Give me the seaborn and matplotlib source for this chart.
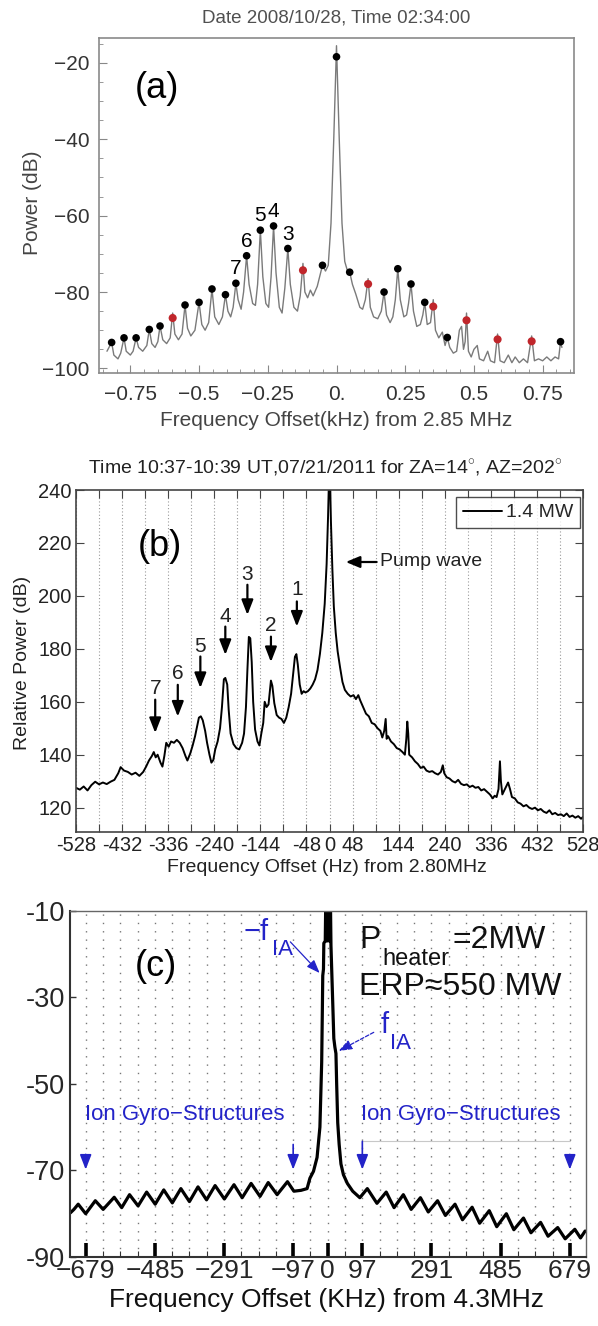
import numpy as np
import pandas as pd
import matplotlib
matplotlib.use("Agg")
import matplotlib.pyplot as plt
import seaborn as sns

sns.set_style("white")
plt.rcParams['font.family'] = ['Liberation Sans', 'DejaVu Sans']
plt.rcParams['mathtext.fontset'] = 'custom'
plt.rcParams['mathtext.rm'] = 'Liberation Sans'
plt.rcParams['axes.unicode_minus'] = True

# ---------------- Panel (a) data ----------------
a_line = [
    (-0.835, -95.5), (-0.818, -93.2), (-0.81, -96.5), (-0.795, -97.5), (-0.785, -96.0),
    (-0.773, -92.0), (-0.765, -95.5), (-0.75, -96.5), (-0.74, -95.5), (-0.729, -92.0),
    (-0.72, -94.5), (-0.705, -95.5), (-0.69, -94.0), (-0.681, -89.8), (-0.672, -93.5),
    (-0.66, -94.5), (-0.65, -93.0), (-0.642, -88.9), (-0.632, -92.5), (-0.618, -93.5),
    (-0.605, -92.0), (-0.596, -85.5), (-0.588, -91.0), (-0.575, -92.5), (-0.562, -91.0),
    (-0.551, -83.4), (-0.542, -89.5), (-0.53, -91.5), (-0.515, -90.0), (-0.500, -82.7),
    (-0.49, -88.5), (-0.478, -90.0), (-0.465, -88.0), (-0.453, -79.2), (-0.443, -86.5),
    (-0.428, -88.5), (-0.415, -86.5), (-0.404, -80.7), (-0.395, -85.0), (-0.385, -86.5),
    (-0.376, -84.0), (-0.366, -77.7), (-0.358, -82.0), (-0.347, -84.5), (-0.338, -80.0),
    (-0.327, -70.5), (-0.318, -78.0), (-0.305, -83.0), (-0.295, -83.5), (-0.287, -78.0),
    (-0.277, -63.8), (-0.268, -76.0), (-0.257, -83.0), (-0.247, -84.0), (-0.238, -76.0),
    (-0.229, -62.7), (-0.22, -75.0), (-0.208, -84.0), (-0.198, -85.5), (-0.188, -79.0),
    (-0.177, -68.6), (-0.168, -78.0), (-0.155, -84.0), (-0.142, -85.0), (-0.132, -81.0),
    (-0.122, -72.5), (-0.115, -80.0), (-0.105, -81.5), (-0.095, -79.5), (-0.085, -81.0),
    (-0.07, -78.5), (-0.051, -73.0), (-0.04, -74.5), (-0.03, -73.0), (-0.02, -62.0),
    (-0.01, -40.0), (0.0, -15.5), (0.01, -40.0), (0.02, -62.0), (0.03, -72.0),
    (0.04, -74.5), (0.048, -74.8), (0.058, -78.0), (0.07, -80.5), (0.085, -84.0),
    (0.095, -84.5), (0.105, -82.0), (0.115, -76.5), (0.123, -84.0), (0.135, -86.5),
    (0.15, -87.0), (0.163, -85.0), (0.173, -80.0), (0.182, -86.0), (0.195, -88.0),
    (0.205, -86.5), (0.214, -82.0), (0.223, -73.9), (0.232, -82.0), (0.245, -86.5),
    (0.255, -86.0), (0.262, -83.0), (0.271, -77.9), (0.28, -85.0), (0.292, -89.0),
    (0.305, -88.5), (0.314, -86.0), (0.321, -82.7), (0.33, -88.5), (0.342, -88.0),
    (0.352, -82.0), (0.36, -90.0), (0.372, -92.0), (0.385, -90.5), (0.395, -94.0),
    (0.403, -91.9), (0.412, -94.5), (0.425, -96.0), (0.437, -95.5), (0.447, -90.0),
    (0.455, -89.0), (0.462, -95.0), (0.468, -93.0), (0.473, -85.5), (0.48, -95.5),
    (0.49, -97.0), (0.5, -95.0), (0.512, -94.0), (0.52, -97.5), (0.535, -98.0),
    (0.55, -95.5), (0.56, -98.0), (0.575, -98.5), (0.586, -91.0), (0.595, -98.0),
    (0.61, -98.5), (0.625, -96.5), (0.638, -98.5), (0.65, -97.0), (0.665, -98.5),
    (0.68, -97.5), (0.695, -98.5), (0.71, -91.5), (0.72, -98.0), (0.735, -97.5),
    (0.75, -98.0), (0.765, -97.0), (0.78, -98.0), (0.795, -97.0), (0.808, -97.5),
    (0.815, -93.0), (0.82, -94.5)]
a_line_x = [p[0] for p in a_line]
a_line_y = [p[1] for p in a_line]
a_black_x = [-0.818, -0.773, -0.729, -0.681, -0.642, -0.551, -0.500, -0.453, -0.404, -0.366,
             -0.327, -0.277, -0.229, -0.177, -0.051, 0.0, 0.048, 0.173, 0.223, 0.271,
             0.321, 0.403, 0.815]
a_black_y = [-93.2, -92.0, -92.0, -89.8, -88.9, -83.4, -82.7, -79.2, -80.7, -77.7,
             -70.5, -63.8, -62.7, -68.6, -73.0, -18.4, -74.8, -80.0, -73.9, -77.9,
             -82.7, -91.9, -93.0]
a_red_x = [-0.596, -0.122, 0.115, 0.352, 0.473, 0.586, 0.71]
a_red_y = [-86.8, -74.3, -77.9, -83.8, -87.4, -92.4, -92.9]
a_num_labels = ["7", "6", "5", "4", "3"]
a_num_x = [-0.366, -0.327, -0.277, -0.229, -0.177]
a_num_y = [-77.7, -70.5, -63.8, -62.7, -68.6]
a_xticks = [-0.75, -0.5, -0.25, 0.0, 0.25, 0.5, 0.75]
a_xticklabels = ["\u22120.75", "\u22120.5", "\u22120.25", "0.", "0.25", "0.5", "0.75"]
a_yticks = [-100, -80, -60, -40, -20]
a_yticklabels = ["\u2212100", "\u221280", "\u221260", "\u221240", "\u221220"]

# ---------------- Panel (b) data ----------------
b_line = [
    (-528, 127.5), (-520, 126.8), (-512, 128.0), (-504, 126.5), (-496, 128.5), (-488, 129.8),
    (-480, 128.8), (-472, 129.5), (-464, 128.9), (-456, 129.8), (-448, 130.5), (-440, 133.0),
    (-435, 135.3), (-428, 134.0), (-420, 133.5), (-412, 132.5), (-404, 133.2), (-396, 132.0),
    (-388, 133.5), (-382, 135.5), (-376, 137.8), (-370, 139.5), (-366, 141.0), (-362, 139.0),
    (-358, 140.0), (-352, 137.0), (-348, 135.5), (-344, 139.5), (-340, 144.5), (-335, 143.0),
    (-330, 145.0), (-324, 144.5), (-318, 145.6), (-312, 144.5), (-306, 142.5), (-300, 139.5),
    (-296, 137.8), (-290, 140.5), (-285, 143.5), (-280, 147.0), (-276, 150.5), (-272, 154.0),
    (-268, 154.5), (-264, 153.0), (-259, 149.0), (-255, 144.5), (-250, 140.0), (-246, 137.0),
    (-242, 138.0), (-238, 142.0), (-233, 145.0), (-228, 150.0), (-224, 158.0), (-220, 168.5),
    (-217, 169.0), (-213, 166.5), (-210, 157.0), (-206, 148.0), (-200, 144.0), (-194, 142.5),
    (-188, 142.0), (-182, 144.5), (-178, 148.0), (-174, 158.0), (-171, 172.0), (-168, 184.5),
    (-165, 184.0), (-162, 175.0), (-159, 160.0), (-155, 149.5), (-150, 145.0), (-146, 143.5),
    (-142, 148.0), (-138, 152.0), (-135, 160.0), (-131, 158.0), (-127, 159.0), (-122, 168.0),
    (-119, 166.0), (-115, 159.5), (-110, 155.0), (-105, 154.0), (-100, 153.5), (-95, 152.0),
    (-90, 154.0), (-85, 158.0), (-80, 163.0), (-76, 170.0), (-72, 177.0), (-69, 178.0),
    (-66, 174.0), (-62, 166.5), (-58, 163.0), (-54, 164.0), (-50, 163.5), (-45, 164.0),
    (-40, 165.0), (-35, 166.5), (-30, 168.5), (-25, 172.0), (-20, 178.0), (-15, 186.0),
    (-10, 197.0), (-6, 212.0), (-3, 230.0), (-1, 245.0), (1, 245.0), (3, 228.0),
    (6, 210.0), (9, 196.0), (13, 186.0), (17, 179.0), (22, 173.0), (27, 167.5),
    (32, 164.5), (38, 163.0), (44, 162.0), (50, 162.5), (55, 161.0), (60, 162.5),
    (64, 160.5), (70, 158.0), (76, 155.5), (82, 154.5), (88, 152.0), (94, 151.5),
    (100, 150.0), (106, 149.0), (110, 146.5), (114, 149.0), (117, 153.5), (119, 146.0),
    (122, 147.0), (128, 145.0), (134, 144.0), (140, 142.5), (146, 142.0), (152, 141.0),
    (157, 140.0), (160, 146.0), (162, 152.5), (164, 148.0), (166, 140.0), (172, 139.0),
    (178, 137.5), (184, 136.5), (190, 135.0), (196, 135.5), (202, 134.0), (208, 133.5),
    (214, 133.8), (220, 133.0), (226, 132.5), (232, 133.5), (236, 136.0), (239, 133.0),
    (244, 131.5), (250, 131.0), (256, 130.0), (262, 129.5), (268, 130.5), (274, 129.0),
    (280, 128.5), (286, 128.8), (292, 127.8), (298, 128.3), (304, 127.5), (310, 127.8),
    (316, 126.5), (322, 127.0), (328, 126.0), (334, 125.0), (340, 123.5), (344, 124.5),
    (348, 124.0), (352, 127.0), (355, 137.5), (357, 130.0), (360, 125.0), (364, 126.5),
    (368, 128.0), (372, 129.5), (376, 127.0), (380, 124.0), (386, 123.5), (392, 122.0),
    (398, 121.5), (404, 120.5), (410, 121.0), (416, 120.0), (422, 119.5), (428, 120.0),
    (434, 119.0), (440, 119.5), (446, 118.5), (452, 118.0), (458, 119.0), (464, 117.5),
    (470, 118.0), (476, 117.2), (482, 117.5), (488, 116.8), (494, 117.8), (500, 116.5),
    (506, 117.0), (512, 116.2), (518, 116.8), (524, 115.8), (528, 116.5)]
b_line_x = [p[0] for p in b_line]
b_line_y = [p[1] for p in b_line]
b_arrow_labels = ["1", "2", "3", "4", "5", "6", "7"]
b_arrow_x = [-68, -122, -171, -217, -269, -316, -363]
b_arrow_tip = [188.4, 175.0, 192.8, 177.7, 165.2, 154.4, 148.2]
b_arrow_tail = [197.9, 184.6, 204.2, 188.4, 177.1, 166.4, 160.8]
b_label_y = [202.3, 188.8, 208.0, 192.2, 181.0, 170.6, 165.2]
b_xticks = list(range(-528, 529, 48))
b_xlabeled = [-528, -432, -336, -240, -144, -48, 0, 48, 144, 240, 336, 432, 528]
b_yticks = [120, 140, 160, 180, 200, 220, 240]

# ---------------- Panel (c) data ----------------
c_line = [
    (-722, -79.8), (-712, -79.0), (-700, -77.8), (-679, -80.0), (-652, -77.0), (-630, -79.0),
    (-599, -76.2), (-578, -78.6), (-556, -75.6), (-532, -78.2), (-508, -75.0), (-484, -77.8),
    (-460, -74.5), (-436, -77.5), (-412, -74.2), (-388, -77.2), (-364, -73.8), (-340, -76.8),
    (-316, -73.5), (-290, -76.6), (-263, -73.3), (-240, -76.3), (-215, -73.0), (-190, -76.0),
    (-167, -72.8), (-142, -75.6), (-113, -72.6), (-95, -74.8), (-75, -74.6), (-58, -74.2),
    (-50, -71.8), (-40, -70.2), (-30, -67.0), (-22, -60.0), (-17, -45.0), (-15, -32.0),
    (-14, -25.0), (-12, -23.5), (-11, -17.5), (-7, -17.0), (-5, -4.0), (-2, -17.0),
    (1, -4.0), (4, -17.0), (7, -4.0), (9, -18.0), (12, -26.0), (15, -34.0),
    (17, -39.5), (20, -41.5), (23, -43.0), (25, -50.0), (28, -59.0), (32, -64.0),
    (37, -68.5), (44, -71.0), (55, -73.0), (70, -74.8), (90, -76.3), (111, -74.2),
    (138, -77.6), (164, -75.0), (186, -78.6), (212, -75.6), (234, -79.0), (260, -76.3),
    (282, -79.6), (308, -77.0), (330, -80.4), (357, -77.8), (378, -81.4), (405, -78.5),
    (426, -82.2), (453, -79.3), (474, -83.0), (501, -80.0), (522, -83.7), (549, -81.0),
    (570, -84.4), (597, -82.0), (618, -85.2), (645, -83.2), (666, -85.8), (693, -83.6),
    (709, -85.6), (722, -84.0)]
c_line_x = [p[0] for p in c_line]
c_line_y = [p[1] for p in c_line]
c_xticks = [-679, -485, -291, -97, 0, 97, 291, 485, 679]
c_xticklabels = ["\u2212679", "\u2212485", "\u2212291", "\u221297", "0", "97", "291", "485", "679"]
c_yticks = [-90, -70, -50, -30, -10]
c_yticklabels = ["-90", "-70", "-50", "-30", "-10"]
c_gyro_step = 48.5
c_gyro_arrows_x = [-679, -97, 97, 679]
c_gyro_arrows_tail = [-66.3, -64.0, -63.3, -66.3]

W, H = 598, 1326
fig = plt.figure(figsize=(W / 100, H / 100), dpi=100)

def box(l, t, r, b):
    return [l / W, 1 - b / H, (r - l) / W, (b - t) / H]

# ======================= (a) =======================
axa = fig.add_axes(box(99, 37.7, 574, 373))
sns.lineplot(x=a_line_x, y=a_line_y, ax=axa, sort=False, estimator=None,
             color="#7a7a7a", lw=1.0)
sns.scatterplot(x=a_black_x, y=a_black_y, ax=axa, color="black", s=30,
                edgecolor="none", zorder=3)
sns.scatterplot(x=a_red_x, y=a_red_y, ax=axa, color="#c0262b", s=34,
                edgecolor="none", zorder=3)
for lab, x, y in zip(a_num_labels, a_num_x, a_num_y):
    axa.annotate(lab, (x, y), xytext=(0, 3.5), textcoords="offset points",
                 ha="center", va="bottom", fontsize=15, color="black")
axa.set_xlim(-0.864, 0.864)
axa.set_ylim(-101.2, -13.4)
axa.set_xticks(a_xticks)
axa.set_xticklabels(a_xticklabels)
axa.set_yticks(a_yticks)
axa.set_yticklabels(a_yticklabels)
axa.set_xticks(np.arange(-0.85, 0.86, 0.05), minor=True)
axa.set_yticks(np.arange(-100, -14, 5), minor=True)
axa.tick_params(which="both", direction="in", color="#888888", labelcolor="#333333",
                labelsize=15, left=True, bottom=True)
axa.tick_params(axis="x", which="major", length=6, pad=9)
axa.tick_params(axis="y", which="major", length=6, pad=7)
axa.tick_params(which="minor", length=3)
for s in axa.spines.values():
    s.set_color("#8a8a8a")
    s.set_linewidth(1.2)
axa.set_xlabel("Frequency Offset(kHz) from 2.85 MHz", fontsize=15, color="#444444")
axa.set_ylabel("Power (dB)", fontsize=15, color="#444444")
axa.xaxis.set_label_coords(0.499, -0.143)
axa.xaxis.label.set_va("center")
axa.yaxis.set_label_coords(-0.141, 0.507)
axa.yaxis.label.set_va("center")
axa.text(-0.653, -26.6, "(a)", fontsize=26, ha="center", va="center", color="black")
fig.text(336 / W, 1 - 18 / H, "Date 2008/10/28, Time 02:34:00", ha="center", va="center",
         fontsize=13.5, color="#505050")

# ======================= (b) =======================
axb = fig.add_axes(box(76, 490, 583, 832))
sns.lineplot(x=b_line_x, y=b_line_y, ax=axb, sort=False, estimator=None,
             color="black", lw=1.4, label="1.4 MW")
axb.set_xlim(-528, 528)
axb.set_ylim(110.8, 240)
axb.set_xticks(b_xticks)
axb.set_xticklabels([str(t) if t in b_xlabeled else "" for t in b_xticks])
axb.set_yticks(b_yticks)
axb.tick_params(which="both", direction="in", length=6, color="#444444", labelsize=14.5,
                labelcolor="#222222", top=True, bottom=True, left=True, right=True)
axb.tick_params(axis="x", pad=3)
axb.tick_params(axis="y", pad=3)
axb.grid(axis="x", ls=(0, (1, 2)), color="#9a9a9a", lw=0.8)
axb.grid(axis="y", visible=False)
for s in axb.spines.values():
    s.set_color("#444444")
    s.set_linewidth(1.2)
axb.set_xlabel("Frequency Offset (Hz) from 2.80MHz", fontsize=14, color="#222222")
axb.set_ylabel("Relative Power (dB)", fontsize=14, color="#222222")
axb.xaxis.set_label_coords(0.495, -0.105)
axb.xaxis.label.set_va("center")
axb.yaxis.set_label_coords(-0.1065, 0.494)
axb.yaxis.label.set_va("center")
leg = axb.legend(loc="upper right", bbox_to_anchor=(0.994, 0.9795), borderaxespad=0,
                 fontsize=14, frameon=True, fancybox=False, handlelength=2.0,
                 handletextpad=0.2, borderpad=0.35)
leg.get_frame().set_edgecolor("#222222")
leg.get_frame().set_linewidth(1.0)
for lab, x, tip, tail, ly in zip(b_arrow_labels, b_arrow_x, b_arrow_tip, b_arrow_tail, b_label_y):
    axb.annotate("", xy=(x, tip), xytext=(x, tail),
                 arrowprops=dict(arrowstyle="-|>,head_length=0.9,head_width=0.35",
                                 color="black", lw=1.6, shrinkA=0, shrinkB=0))
    axb.text(x, ly, lab, ha="center", va="center", fontsize=15, color="#222222")
axb.annotate("Pump wave", xy=(34, 212.8), xytext=(105, 212.8), ha="left", va="center",
             fontsize=14, color="#222222",
             arrowprops=dict(arrowstyle="-|>,head_length=0.6,head_width=0.25",
                             color="black", lw=1.6, shrinkA=0, shrinkB=0))
axb.text(-353, 218.5, "(b)", fontsize=26, ha="center", va="center", color="black")
fig.text(325 / W, 1 - 468 / H,
         "Time 10:37-10:39 UT,07/21/2011 for ZA=14$^{\\circ}$, AZ=202$^{\\circ}$",
         ha="center", va="center", fontsize=14, color="#222222")

# ======================= (c) =======================
blue = "#2323c8"
axc = fig.add_axes(box(70, 910.7, 585.5, 1257))
sns.lineplot(x=c_line_x, y=c_line_y, ax=axc, sort=False, estimator=None,
             color="black", lw=2.3)
axc.set_xlim(-723, 723)
axc.set_ylim(-90, -10)
axc.set_xticks(c_xticks)
axc.set_xticklabels(c_xticklabels)
nmin = int(700 // c_gyro_step)
axc.set_xticks([k * c_gyro_step for k in range(-nmin, nmin + 1)], minor=True)
axc.set_yticks(c_yticks)
axc.set_yticklabels(c_yticklabels)
axc.tick_params(axis="x", which="major", direction="in", length=10, width=2.6,
                color="black", labelsize=19, pad=1.5, bottom=True, top=False)
axc.tick_params(axis="x", which="minor", direction="in", length=4, width=0.8,
                color="#333333", bottom=True, top=False)
axc.tick_params(axis="y", which="major", direction="in", length=4, width=1.0,
                color="#333333", labelsize=19.5, pad=3.5, left=True, right=False)
axc.grid(axis="x", which="both", ls=(0, (1, 5)), color="#777777", lw=1.0)
axc.grid(axis="y", visible=False)
for k, s in axc.spines.items():
    s.set_color("#333333" if k in ("left", "bottom") else "#666666")
    s.set_linewidth(1.5 if k in ("left", "bottom") else 1.0)
axc.set_xlabel("Frequency Offset (KHz) from 4.3MHz", fontsize=19, color="#111111")
axc.xaxis.set_label_coords(0.4985, -0.124)
axc.xaxis.label.set_va("center")
axc.text(-481, -23, "(c)", fontsize=26, ha="center", va="center", color="black")
# text annotations
axc.text(89, -18.6, "P", fontsize=23, ha="left", va="baseline", color="#111111")
axc.text(153, -22.5, "heater", fontsize=17, ha="left", va="baseline", color="#111111")
axc.text(349, -18.6, "=2MW", fontsize=23, ha="left", va="baseline", color="#111111")
axc.text(89, -29.5, "ERP\u2248550 MW", fontsize=23, ha="left", va="baseline", color="#111111")
axc.text(-237, -16.8, "\u2212f", fontsize=21, ha="left", va="baseline", color=blue)
axc.text(-155, -20.3, "IA", fontsize=16, ha="left", va="baseline", color=blue)
axc.text(147, -38.2, "f", fontsize=21, ha="left", va="baseline", color=blue)
axc.text(175, -41.9, "IA", fontsize=16, ha="left", va="baseline", color=blue)
axc.annotate("", xy=(-22.7, -24.4), xytext=(-105, -17.2),
             arrowprops=dict(arrowstyle="-|>,head_length=0.8,head_width=0.3",
                             color=blue, lw=0.9, shrinkA=0, shrinkB=0))
axc.annotate("", xy=(30.6, -42.4), xytext=(129, -38.1),
             arrowprops=dict(arrowstyle="-|>,head_length=0.8,head_width=0.3",
                             color=blue, lw=0.9, ls=(0, (3, 1.5)), shrinkA=0, shrinkB=0))
axc.text(-402, -57.1, "Ion Gyro\u2212Structures", fontsize=16, ha="center", va="center", color=blue)
axc.text(372, -57.1, "Ion Gyro\u2212Structures", fontsize=16, ha="center", va="center", color=blue)
axc.plot([97, 679], [-63.3, -63.3], color="#c8c8c8", lw=0.8)
for x, tail in zip(c_gyro_arrows_x, c_gyro_arrows_tail):
    axc.annotate("", xy=(x, -69.8), xytext=(x, tail),
                 arrowprops=dict(arrowstyle="-|>,head_length=0.9,head_width=0.35",
                                 color=blue, lw=1.2, shrinkA=0, shrinkB=0))

fig.savefig("out.png", dpi=100)
